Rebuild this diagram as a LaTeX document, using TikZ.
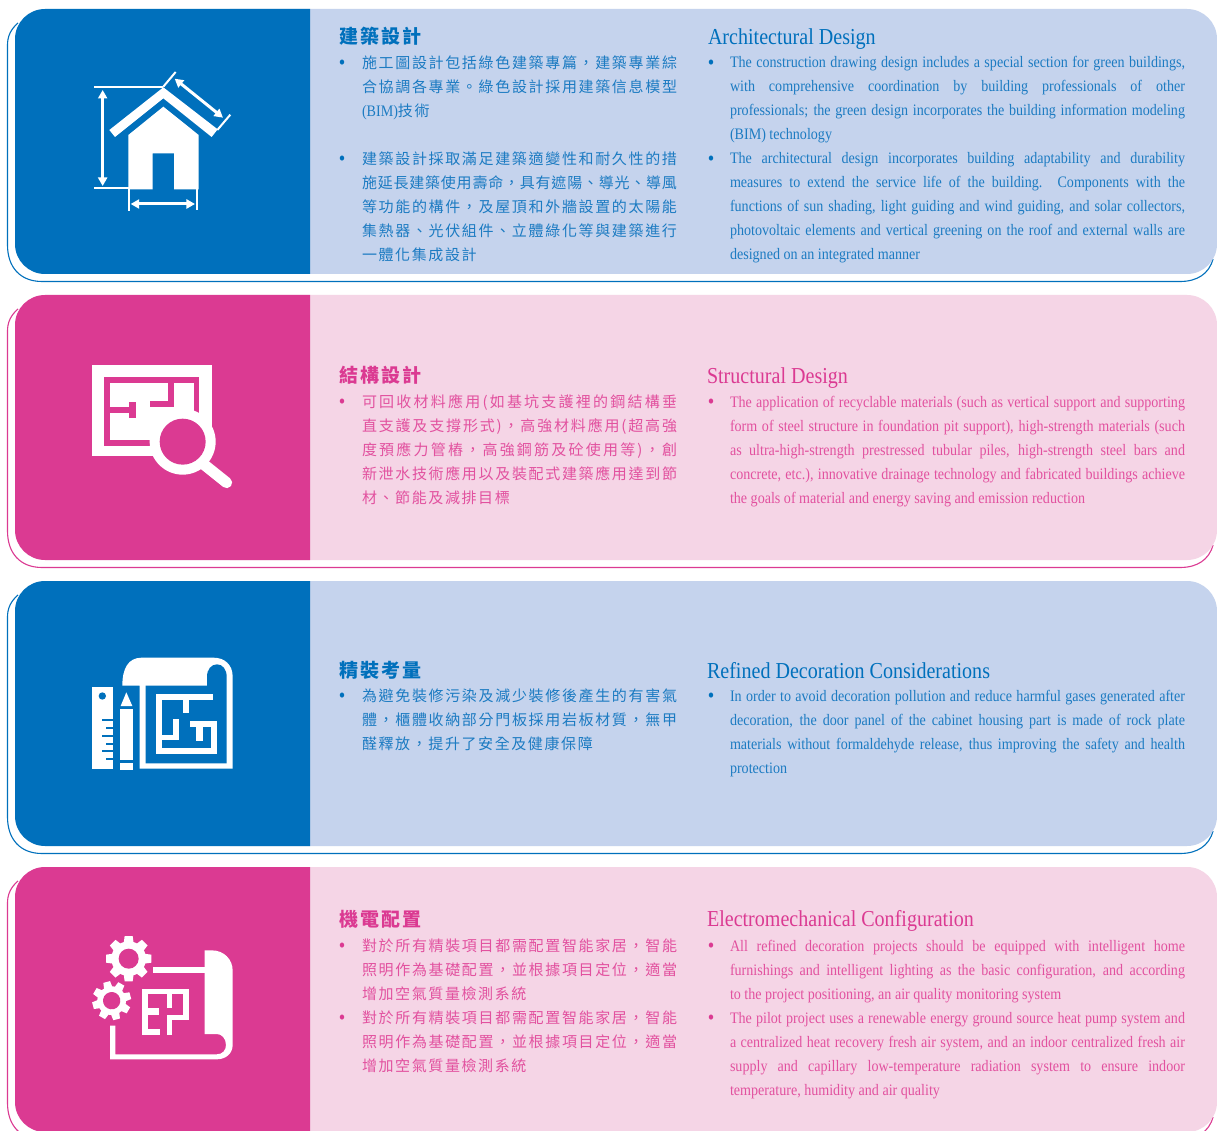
\documentclass[tikz,border=0pt]{standalone}
\usepackage{fontspec}
\usetikzlibrary{arrows.meta}
\newfontfamily\enf[FakeStretch=0.88]{Liberation Serif}
\newfontfamily\cjk{Noto Sans CJK TC}
\definecolor{bluedark}{HTML}{0070BC}
\definecolor{bluelight}{HTML}{C5D3ED}
\definecolor{bluetext}{HTML}{1C7BC2}
\definecolor{pinkdark}{HTML}{DB3A92}
\definecolor{pinklight}{HTML}{F5D5E6}
\definecolor{pinktext}{HTML}{E2519F}
\newdimen\zgap
\def\zglue{\hskip\zgap plus 1fil minus\zgap\relax}
\def\zhaux#1#2{#1\ifx\relax#2\else\zglue\expandafter\zhaux\expandafter#2\fi}
\newcommand\zh[1]{\zhaux#1\relax}
\def\Row{\vrule height 17pt depth 7pt width 0pt\relax}
\newcommand\ZJ[1]{\hbox to 315pt{\Row\cjk\fontsize{15}{24}\selectfont\zgap=1.6pt\zh{#1}}}
\newcommand\ZL[1]{\hbox to 315pt{\Row\cjk\fontsize{15}{24}\selectfont\zgap=1.6pt\zh{#1}\hfill}}
\newcommand\ZB{\hbox to 315pt{\Row\hfil}}
\newcommand\EJ[1]{\hbox to 455pt{\Row\enf\fontsize{16}{24}\selectfont\spaceskip=.22em plus 1fil minus .1em\relax #1}}
\newcommand\EL[1]{\hbox to 455pt{\Row\enf\fontsize{16}{24}\selectfont\spaceskip=.22em plus 1fil minus .1em\relax #1\hfill}}
\newcommand\ZT[1]{\cjk\bfseries\fontsize{19}{22}\selectfont\zgap=2.1pt\zh{#1}}
\newcommand\ET[1]{\enf\fontsize{22.8}{24}\selectfont #1}
\newcommand\Blk[1]{\vtop{\offinterlineskip #1}}
\newcommand\panelbg[3]{%
  \draw[#2,line width=1.1pt] (18,#1+14) .. controls (11,#1+20) and (7.5,#1+27) .. (7.5,#1+36)
     -- (7.5,#1+236) .. controls (7.5,#1+258) and (20,#1+272.5) .. (42,#1+272.5)
     -- (1180,#1+272.5) .. controls (1197,#1+272.5) and (1209,#1+265) .. (1213,#1+250);
  \fill[#3,rounded corners=30pt] (200,#1) -- (1217,#1) -- (1217,#1+265) -- (200,#1+265) -- cycle;
  \fill[#2] (310,#1) [rounded corners=30pt] -- (15,#1) -- (15,#1+265) [sharp corners] -- (310,#1+265) -- cycle;
}
\newcommand\gearicon[8]{%
  \begin{scope}[shift={(#1,#2)},rotate=#6]
    \fill[white] (0,0) circle[radius=#3];
    \foreach \a in {0,45,...,315}{
      \fill[white,rotate=\a] (-#7,#3-6) -- (-#7*0.8,#4) -- (#7*0.8,#4) -- (#7,#3-6) -- cycle;}
    \fill[#8] (0,0) circle[radius=#5];
  \end{scope}}
\tikzset{
  para/.style={anchor=north west,inner sep=0pt,outer sep=0pt},
  ttl/.style={anchor=west,inner sep=0pt,outer sep=0pt},
  bul/.style={inner sep=0pt,outer sep=0pt,yshift=-1.6pt,font=\enf\fontsize{21}{21}\selectfont},
  dbl/.style={white,line width=3pt,{Triangle[length=8.5pt,width=9pt]}-{Triangle[length=8.5pt,width=9pt]}},
  tick/.style={white,line width=2pt}
}
\begin{document}
\begin{tikzpicture}[x=1pt,y=-1pt]
\path[use as bounding box,fill=white] (0,0) rectangle (1217,1131);
\clip (0,0) rectangle (1217,1131);
\panelbg{9}{bluedark}{bluelight}
\panelbg{295}{pinkdark}{pinklight}
\panelbg{581}{bluedark}{bluelight}
\panelbg{867}{pinkdark}{pinklight}

% ---- house icon
\begin{scope}[x=.33333pt,y=-.33333pt]
  \fill[white] (328,390) -- (490,262) -- (653,388) -- (635,411) -- (490,295) -- (345,411) -- cycle;
  \fill[white] (385,405) -- (490,320) -- (596,405) -- (596,568) -- (522,568) -- (522,460) -- (458,460) -- (458,568) -- (385,568) -- cycle;
  \draw[white,line width=1.8pt] (283,262) -- (490,262);
  \draw[white,line width=2pt] (283,564) -- (387,564);
  \draw[tick] (490,260) -- (527,216);
  \draw[tick] (652,390) -- (691,344);
  \draw[tick] (387,568) -- (387,632);
  \draw[tick] (592,568) -- (592,630);
  \draw[dbl] (308,270) -- (308,558);
  \draw[dbl] (392,612) -- (585,612);
  \draw[dbl] (524,236) -- (669,353);
\end{scope}

% ---- plan with magnifier
\begin{scope}[shift={(60,340)},x=.33333pt,y=-.33333pt]
  \fill[white] (97,74) rectangle (455,348);
  \fill[pinkdark] (132,110) rectangle (416,128);
  \fill[pinkdark] (401,110) rectangle (416,230);
  \fill[pinkdark] (132,110) rectangle (150,318);
  \fill[pinkdark] (132,300) rectangle (272,318);
  \fill[pinkdark] (325,128) rectangle (343,200);
  \fill[pinkdark] (270,183) rectangle (343,200);
  \fill[pinkdark] (150,200) rectangle (228,220);
  \fill[pinkdark] (208,187) rectangle (228,234);
  \draw[white,line width=11pt,line cap=round] (430,372) -- (500,428);
  \fill[white] (368,305) circle[radius=99];
  \fill[pinkdark] (368,305) circle[radius=69];
\end{scope}

% ---- ruler, pencil, blueprint
\begin{scope}[shift={(70,640)},x=.33333pt,y=-.33333pt]
  \fill[white] (67,142) rectangle (128,388);
  \fill[bluedark] (97,168) circle[radius=11];
  \foreach \yy/\xx in {238/97,262/108,285/97,308/108,331/97,355/108}{
    \fill[bluedark] (\xx,\yy) rectangle (128,\yy+6);}
  \fill[white] (152,198) -- (169,157) -- (187,198) -- cycle;
  \fill[white] (150,208) rectangle (189,360);
  \fill[white] (150,369) rectangle (189,390);
  \fill[white] (157,137) .. controls (157,85) and (175,53) .. (215,53) -- (430,53)
     .. controls (465,53) and (488,75) .. (488,110) -- (488,386) -- (209,386) -- (209,137) -- cycle;
  \fill[bluedark] (227,137) -- (227,370) -- (470,370) -- (470,110)
     .. controls (470,88) and (458,73) .. (441,73) .. controls (424,73) and (411,88) .. (411,110)
     -- (411,137) -- cycle;
  \fill[white] (258,162) rectangle (276,342);
  \fill[white] (258,162) rectangle (430,181);
  \fill[white] (258,324) rectangle (440,342);
  \fill[white] (423,243) rectangle (440,342);
  \fill[white] (360,243) rectangle (440,262);
  \fill[white] (378,262) rectangle (398,302);
  \fill[white] (340,181) rectangle (358,218);
  \fill[white] (308,237) rectangle (327,300);
  \fill[white] (276,284) rectangle (327,300);
\end{scope}

% ---- gears and plan
\begin{scope}[shift={(70,920)},x=.33333pt,y=-.33333pt]
  \gearicon{176}{116}{52}{68}{30}{0}{15}{pinkdark}
  \gearicon{125}{242}{43}{58}{26}{15}{13}{pinkdark}
  \fill[white] (248,142) rectangle (404,158);
  \fill[white] (404,91) -- (425,91) .. controls (462,91) and (488,118) .. (488,152) -- (488,375)
     .. controls (488,400) and (468,418) .. (440,418) -- (120,418) -- (120,317) -- (136,317) -- (136,403)
     -- (440,403) .. controls (458,403) and (468,390) .. (468,375) .. controls (468,355) and (455,342) .. (440,342)
     -- (404,342) -- cycle;
  \fill[white] (217,208) rectangle (356,223);
  \fill[white] (217,208) rectangle (233,345);
  \fill[white] (217,328) rectangle (270,345);
  \fill[white] (233,265) rectangle (268,285);
  \fill[white] (340,208) rectangle (356,300);
  \fill[white] (290,285) rectangle (356,300);
  \fill[white] (290,285) rectangle (306,345);
  \fill[white] (290,223) rectangle (306,265);
\end{scope}

% ---- panel 1
\node[ttl,text=bluedark] (t1z) at (339,36) {\ZT{建築設計}};
\node[bul,text=bluedark] (b1a) at (342,63) {•};
\node[bul,text=bluedark] (b1b) at (342,159) {•};
\node[para,text=bluetext] (p1z) at (362,51.5) {\Blk{%
  \ZJ{施工圖設計包括綠色建築專篇，建築專業綜}
  \ZJ{合協調各專業。綠色設計採用建築信息模型}
  \hbox to 315pt{\Row{\enf\fontsize{16}{24}\selectfont (BIM)}\cjk\fontsize{15}{24}\selectfont\zgap=1.6pt\zh{技術}\hfill}
  \ZB
  \ZJ{建築設計採取滿足建築適變性和耐久性的措}
  \ZJ{施延長建築使用壽命，具有遮陽、導光、導風}
  \ZJ{等功能的構件，及屋頂和外牆設置的太陽能}
  \ZJ{集熱器、光伏組件、立體綠化等與建築進行}
  \ZL{一體化集成設計}}};
\node[ttl,text=bluedark] (t1e) at (708,39.5) {\ET{Architectural Design}};
\node[bul,text=bluedark] (b1c) at (711,63) {•};
\node[bul,text=bluedark] (b1d) at (711,159) {•};
\node[para,text=bluetext] (p1e) at (730,51) {\Blk{%
  \EJ{The construction drawing design includes a special section for green buildings,}
  \EJ{with comprehensive coordination by building professionals of other}
  \EJ{professionals; the green design incorporates the building information modeling}
  \EL{(BIM) technology}
  \EJ{The architectural design incorporates building adaptability and durability}
  \EJ{measures to extend the service life of the building. Components with the}
  \EJ{functions of sun shading, light guiding and wind guiding, and solar collectors,}
  \EJ{photovoltaic elements and vertical greening on the roof and external walls are}
  \EL{designed on an integrated manner}}};

% ---- panel 2
\node[ttl,text=pinkdark] (t2z) at (339,375) {\ZT{結構設計}};
\node[bul,text=pinkdark] (b2a) at (342,402) {•};
\node[para,text=pinktext] (p2z) at (362,390) {\Blk{%
  \ZJ{可回收材料應用(如基坑支護裡的鋼結構垂}
  \ZJ{直支護及支撐形式)，高強材料應用(超高強}
  \ZJ{度預應力管樁，高強鋼筋及砼使用等)，創}
  \ZJ{新泄水技術應用以及裝配式建築應用達到節}
  \ZL{材、節能及減排目標}}};
\node[ttl,text=pinkdark] (t2e) at (707,378) {\ET{Structural Design}};
\node[bul,text=pinkdark] (b2b) at (711,402) {•};
\node[para,text=pinktext] (p2e) at (730,390) {\Blk{%
  \EJ{The application of recyclable materials (such as vertical support and supporting}
  \EJ{form of steel structure in foundation pit support), high-strength materials (such}
  \EJ{as ultra-high-strength prestressed tubular piles, high-strength steel bars and}
  \EJ{concrete, etc.), innovative drainage technology and fabricated buildings achieve}
  \EL{the goals of material and energy saving and emission reduction}}};

% ---- panel 3
\node[ttl,text=bluedark] (t3z) at (339,670) {\ZT{精裝考量}};
\node[bul,text=bluedark] (b3a) at (342,696) {•};
\node[para,text=bluetext] (p3z) at (362,684) {\Blk{%
  \ZJ{為避免裝修污染及減少裝修後產生的有害氣}
  \ZJ{體，櫃體收納部分門板採用岩板材質，無甲}
  \ZL{醛釋放，提升了安全及健康保障}}};
\node[ttl,text=bluedark] (t3e) at (707,670.5) {\ET{Refined Decoration Considerations}};
\node[bul,text=bluedark] (b3b) at (711,696) {•};
\node[para,text=bluetext] (p3e) at (730,684) {\Blk{%
  \EJ{In order to avoid decoration pollution and reduce harmful gases generated after}
  \EJ{decoration, the door panel of the cabinet housing part is made of rock plate}
  \EJ{materials without formaldehyde release, thus improving the safety and health}
  \EL{protection}}};

% ---- panel 4
\node[ttl,text=pinkdark] (t4z) at (339,919) {\ZT{機電配置}};
\node[bul,text=pinkdark] (b4a) at (342,946) {•};
\node[bul,text=pinkdark] (b4b) at (342,1018) {•};
\node[para,text=pinktext] (p4z) at (362,934) {\Blk{%
  \ZJ{對於所有精裝項目都需配置智能家居，智能}
  \ZJ{照明作為基礎配置，並根據項目定位，適當}
  \ZL{增加空氣質量檢測系統}
  \ZJ{對於所有精裝項目都需配置智能家居，智能}
  \ZJ{照明作為基礎配置，並根據項目定位，適當}
  \ZL{增加空氣質量檢測系統}}};
\node[ttl,text=pinkdark] (t4e) at (707,921) {\ET{Electromechanical Configuration}};
\node[bul,text=pinkdark] (b4c) at (711,946) {•};
\node[bul,text=pinkdark] (b4d) at (711,1018) {•};
\node[para,text=pinktext] (p4e) at (730,934) {\Blk{%
  \EJ{All refined decoration projects should be equipped with intelligent home}
  \EJ{furnishings and intelligent lighting as the basic configuration, and according}
  \EL{to the project positioning, an air quality monitoring system}
  \EJ{The pilot project uses a renewable energy ground source heat pump system and}
  \EJ{a centralized heat recovery fresh air system, and an indoor centralized fresh air}
  \EJ{supply and capillary low-temperature radiation system to ensure indoor}
  \EL{temperature, humidity and air quality}}};
\end{tikzpicture}
\end{document}
